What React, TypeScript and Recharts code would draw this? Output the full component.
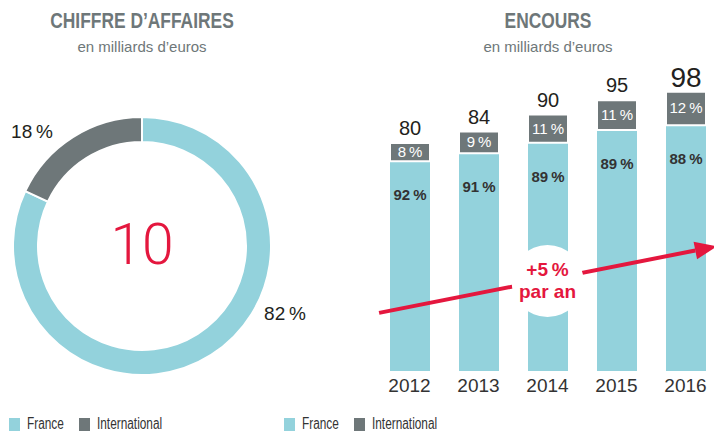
import React from 'react';
import { PieChart, Pie, Cell, Label, BarChart, Bar, XAxis, YAxis, LabelList, ReferenceLine, ReferenceDot } from 'recharts';

const FONT = '"Liberation Sans", Arial, sans-serif';
const BLUE = '#93d2dc';
const GREY = '#6e7779';
const RED = '#e4173e';
const INK = '#231f20';

// chiffre d'affaires
const caSegments = ['France', 'International'];
const caShares = [82, 18];
const caTotal = '10';

// encours
const years = ['2012', '2013', '2014', '2015', '2016'];
const encours = [80, 84, 90, 95, 98];
const francePct = [92, 91, 89, 89, 88];
const intlPct = [8, 9, 11, 11, 12];

// trend arrow (milliards)
const trendFrom = 22.5;
const trendTo = 41.6;
const trendBadgeAt = 31.6;
const trendText = ['+5\u202f%', 'par an'];

const pieData = caSegments.map((name, i) => ({ name, value: caShares[i] }));
const pieColors = [BLUE, GREY];

const barData = years.map((year, i) => ({
  year,
  total: encours[i],
  france: (encours[i] * francePct[i]) / 100,
  intl: (encours[i] * intlPct[i]) / 100,
  francePct: francePct[i],
  intlPct: intlPct[i],
}));

const PIE_CX = 142;
const PIE_CY = 246;

const pieLabel = (props: any) => {
  const { index, value } = props;
  const pos = index === 0 ? { x: PIE_CX + 143, y: PIE_CY + 74 } : { x: PIE_CX - 110, y: PIE_CY - 108 };
  return (
    <text x={pos.x} y={pos.y} textAnchor="middle" fill={INK} fontSize={19} fontFamily={FONT}>
      {value}{'\u202f'}%
    </text>
  );
};

const centerLabel = () => (
  <text x={PIE_CX} y={PIE_CY + 18} textAnchor="middle" fill={RED} fontSize={57} fontWeight={300} fontFamily="Roboto, sans-serif">
    {caTotal}
  </text>
);

const franceLabel = (props: any) => {
  const { x, y, width, value } = props;
  return (
    <text x={x + width / 2} y={y + 39} textAnchor="middle" fill="#333" fontSize={15} fontWeight="bold" fontFamily={FONT}>
      {value}{'\u202f'}%
    </text>
  );
};

const intlLabel = (props: any) => {
  const { x, y, width, height, value } = props;
  return (
    <text x={x + width / 2} y={y + height / 2 + 5} textAnchor="middle" fill="#fff" fontSize={15} fontFamily={FONT}>
      {value}{'\u202f'}%
    </text>
  );
};

const totalLabel = (props: any) => {
  const { x, y, width, value } = props;
  const big = value === Math.max(...encours);
  return (
    <text x={x + width / 2} y={big ? y - 5 : y - 8} textAnchor="middle" fill={INK} fontSize={big ? 28 : 20} fontFamily={FONT}>
      {value}
    </text>
  );
};

const TrendArrow = (props: any) => {
  const { x1, y1, x2, y2 } = props;
  const len = Math.hypot(x2 - x1, y2 - y1);
  const ux = (x2 - x1) / len;
  const uy = (y2 - y1) / len;
  const sx = x1 - ux * 31;
  const sy = y1 - uy * 31;
  const bx = x2 + ux * 10;
  const by = y2 + uy * 10;
  const tx = x2 + ux * 32;
  const ty = y2 + uy * 32;
  const nx = -uy;
  const ny = ux;
  return (
    <g>
      <line x1={sx} y1={sy} x2={bx} y2={by} stroke={RED} strokeWidth={4} />
      <polygon points={`${tx},${ty} ${bx + nx * 9},${by + ny * 9} ${bx - nx * 9},${by - ny * 9}`} fill={RED} />
    </g>
  );
};

const TrendBadge = (props: any) => {
  const { cx, cy } = props;
  return (
    <g>
      <circle cx={cx} cy={cy} r={36} fill="#fff" />
      <text x={cx} y={cy - 5} textAnchor="middle" fill={RED} fontSize={19} fontWeight="bold" fontFamily={FONT}>
        {trendText[0]}
      </text>
      <text x={cx} y={cy + 17} textAnchor="middle" fill={RED} fontSize={19} fontWeight="bold" fontFamily={FONT}>
        {trendText[1]}
      </text>
    </g>
  );
};

const titleStyle: React.CSSProperties = {
  position: 'absolute',
  top: 8,
  textAlign: 'center',
  fontFamily: FONT,
  fontWeight: 'bold',
  fontSize: 22,
  lineHeight: '26px',
  color: GREY,
  transform: 'scaleX(0.79)',
  transformOrigin: 'center',
  whiteSpace: 'nowrap',
};

const subStyle: React.CSSProperties = {
  position: 'absolute',
  top: 38,
  textAlign: 'center',
  fontFamily: FONT,
  fontSize: 15,
  lineHeight: '18px',
  color: GREY,
  whiteSpace: 'nowrap',
};

const legendOffsets = [0, 70];

const LegendItems = ({ left }: { left: number }) => (
  <>
    {caSegments.map((name, i) => (
      <div key={name} style={{ position: 'absolute', left: left + legendOffsets[i], top: 417, height: 14 }}>
        <span style={{ position: 'absolute', left: 0, top: 1, width: 11, height: 13, background: pieColors[i] }} />
        <span
          style={{
            position: 'absolute',
            left: 18,
            top: -2,
            fontFamily: FONT,
            fontSize: 16,
            lineHeight: '18px',
            color: '#333',
            whiteSpace: 'nowrap',
            transform: 'scaleX(0.74)',
            transformOrigin: 'left',
          }}
        >
          {name}
        </span>
      </div>
    ))}
  </>
);

export default function App() {
  return (
    <div style={{ position: 'absolute', left: 0, top: 0, width: 714, height: 431, overflow: 'hidden', background: '#fff' }}>
      <div style={{ ...titleStyle, left: 0, width: 284 }}>CHIFFRE D’AFFAIRES</div>
      <div style={{ ...subStyle, left: 0, width: 284 }}>en milliards d’euros</div>
      <div style={{ ...titleStyle, left: 448, width: 200 }}>ENCOURS</div>
      <div style={{ ...subStyle, left: 448, width: 200 }}>en milliards d’euros</div>

      <div style={{ position: 'absolute', left: 0, top: 0 }}>
        <PieChart width={357} height={431} margin={{ top: 0, right: 0, bottom: 0, left: 0 }}>
          <Pie
            data={pieData}
            dataKey="value"
            cx={PIE_CX}
            cy={PIE_CY}
            innerRadius={104}
            outerRadius={129}
            startAngle={90}
            endAngle={-270}
            stroke="#fff"
            strokeWidth={2}
            label={pieLabel}
            labelLine={false}
            isAnimationActive={false}
          >
            {pieData.map((d, i) => (
              <Cell key={d.name} fill={pieColors[i]} />
            ))}
            <Label content={centerLabel} />
          </Pie>
        </PieChart>
      </div>

      <div style={{ position: 'absolute', left: 360, top: 0 }}>
        <BarChart width={366} height={431} data={barData} margin={{ top: 86, right: 6, bottom: 30, left: 15 }}>
          <XAxis
            dataKey="year"
            axisLine={false}
            tickLine={false}
            height={30}
            tick={{ fill: '#333', fontSize: 19, fontFamily: FONT }}
          />
          <YAxis hide domain={[0, 100]} />
          <Bar dataKey="france" stackId="a" fill={BLUE} barSize={40} isAnimationActive={false}>
            <LabelList dataKey="francePct" content={franceLabel} />
          </Bar>
          <Bar dataKey="intl" stackId="a" fill={GREY} stroke="#fff" strokeWidth={2} barSize={40} isAnimationActive={false}>
            <LabelList dataKey="intlPct" content={intlLabel} />
            <LabelList dataKey="total" content={totalLabel} />
          </Bar>
          <ReferenceLine
            segment={[{ x: years[0], y: trendFrom }, { x: years[years.length - 1], y: trendTo }]}
            ifOverflow="visible"
            shape={TrendArrow}
          />
          <ReferenceDot x={years[2]} y={trendBadgeAt} r={36} ifOverflow="visible" shape={TrendBadge} />
        </BarChart>
      </div>

      <LegendItems left={9} />
      <LegendItems left={284} />
    </div>
  );
}
